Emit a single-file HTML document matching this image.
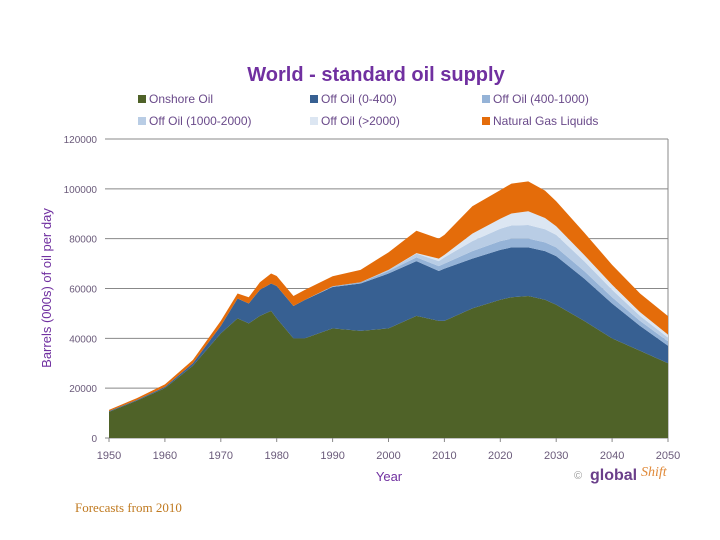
<!DOCTYPE html>
<html><head><meta charset="utf-8"><style>
body{margin:0;background:#fff;width:720px;height:540px;overflow:hidden;font-family:"Liberation Sans",sans-serif}
svg{position:absolute;left:0;top:0}
</style></head><body>
<svg id="c" width="720" height="540">
<text x="376" y="81" text-anchor="middle" font-size="20" font-weight="bold" fill="#7030a0">World - standard oil supply</text>
<g id="legend"></g>
<g id="grid"></g>
<g id="areas"></g>
<g id="axes"></g>
<text x="389" y="481" text-anchor="middle" font-size="13" fill="#7030a0">Year</text>
<text transform="translate(51,288) rotate(-90)" text-anchor="middle" font-size="13" fill="#7030a0">Barrels (000s) of oil per day</text>
<g><text x="574" y="479" font-size="11" fill="#999">©</text><text x="590" y="480" font-size="16" font-weight="bold" fill="#6a3f8a">global</text><text x="641" y="476" font-size="14" font-style="italic" fill="#e08a3a" font-family="Liberation Serif,serif">Shift</text></g>
<text x="75" y="512" font-size="13" fill="#c07a20" font-family="Liberation Serif,serif">Forecasts from 2010</text>
</svg>
<script>
const years=[1950,1955,1960,1965,1970,1973,1975,1977,1979,1980,1983,1985,1990,1995,2000,2005,2009,2010,2015,2020,2022,2025,2028,2030,2035,2040,2045,2050];
const onshore=[10.5,15,20,29,42,48,46,49,51,48,40,40,44,43,44,49,47,47,52,55.5,56.5,57,55.5,53.5,47,40,35,30];
const off0_400=[0.3,0.3,0.5,1,3,8,8,10.5,11,13,13,15.4,16.6,19,22,22,20,21,20,20,20,19.5,19.5,19.5,17,14,10,7];
const off400_1000=[0,0,0,0,0,0,0,0,0,0,0,0,0.3,0.5,1,1.5,2,2,3,3.5,3.5,3.5,3.5,3.5,3,2.5,2,1.8];
const off1000_2000=[0,0,0,0,0,0,0,0,0,0,0,0,0,0,0.5,1.5,2,2.5,4,5,5.3,5.5,5.3,5,4,3,2,1.5];
const off2000=[0,0,0,0,0,0,0,0,0,0,0,0,0,0,0,0.2,1,1,3,4,4.8,5.5,4.5,3.5,2.5,2,1.5,1.2];
const ngl=[0.5,0.7,1,1.3,2,2,2.5,3,4,4,4,4,4,5,7,9,8,8,11,11.5,12,12,11,10,9,8,7.5,7.4];
const yTicks=[0,20000,40000,60000,80000,100000,120000];
const xTicks=[1950,1960,1970,1980,1990,2000,2010,2020,2030,2040,2050];
const seriesNames=["Onshore Oil","Off Oil (0-400)","Off Oil (400-1000)","Off Oil (1000-2000)","Off Oil (>2000)","Natural Gas Liquids"];
const series=[onshore,off0_400,off400_1000,off1000_2000,off2000,ngl];
const colors=["#4f6228","#376092","#95b3d7","#b9cde5","#dce6f2","#e46c0a"];
const NS="http://www.w3.org/2000/svg";
const X=y=>109+(y-1950)*(668-109)/100;
const Y=v=>438-v*(438-139)/120;
function mk(t,a,p){const e=document.createElementNS(NS,t);for(const k in a)e.setAttribute(k,a[k]);p.appendChild(e);return e;}
const grid=document.getElementById('grid'),axes=document.getElementById('axes'),areas=document.getElementById('areas'),leg=document.getElementById('legend');
yTicks.forEach(t=>{
 const l=mk('line',{x1:105,x2:668,y1:Y(t/1000),y2:Y(t/1000),stroke:'#888','stroke-width':1},grid);
 
 
 const tx=mk('text',{x:97,y:Y(t/1000)+4,'text-anchor':'end','font-size':10,fill:'#6a5a7a'},axes);
 tx.textContent=t;
 
 
});
mk('line',{x1:668,x2:668,y1:139,y2:438,stroke:'#888'},grid);
let base=years.map(()=>0);
series.forEach((s,i)=>{
 const top=base.map((b,j)=>b+s[j]);
 let d='M'+years.map((y,j)=>X(y)+','+Y(top[j])).join('L');
 for(let j=years.length-1;j>=0;j--)d+='L'+X(years[j])+','+Y(base[j]);
 const p=mk('path',{d:d+'Z',fill:colors[i]},areas);
 
 
 base=top;
});
xTicks.forEach(t=>{
 mk('line',{x1:X(t),x2:X(t),y1:438,y2:442,stroke:'#888'},axes);
 const tx=mk('text',{x:X(t),y:459,'text-anchor':'middle','font-size':11,fill:'#6a5a7a'},axes);
 tx.textContent=t;
 
 
});
const lx=[138,310,482],ly=[103,125],order=[0,1,2,3,4,5];
order.forEach((i,k)=>{
 const x=lx[k%3],y=ly[Math.floor(k/3)];
 const g=mk('g',{},leg);
 
 
 mk('rect',{x:x,y:y-8,width:8,height:8,fill:colors[i]},g);
 const t=mk('text',{x:x+11,y:y,'font-size':12,fill:'#6a4a8a'},g);
 t.textContent=seriesNames[i];
});
</script>
</body></html>
